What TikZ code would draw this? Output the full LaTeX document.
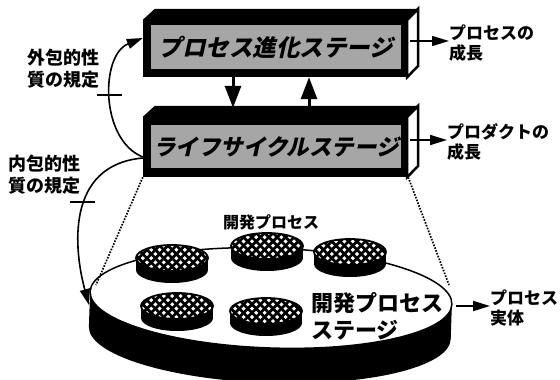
\documentclass[tikz,border=0pt]{standalone}
\usepackage{fontspec}
\newfontfamily\jp{Noto Sans CJK JP}
\newfontfamily\jpsl{Noto Sans CJK JP}[FakeSlant=0.22]
\usetikzlibrary{arrows.meta,patterns.meta}
\tikzdeclarepattern{
  name=xhatch, type=uncolored,
  bounding box={(-5.5pt,-5.5pt) and (5.5pt,5.5pt)},
  tile size={(8.4pt,8.4pt)},
  code={
    \draw[line width=2.7pt] (-5.2pt,-5.2pt) -- (5.2pt,5.2pt);
    \draw[line width=2.7pt] (-5.2pt,5.2pt) -- (5.2pt,-5.2pt);
  }
}
\tikzset{
  boxfront/.style={fill=black, draw=none, minimum width=265pt, inner sep=0pt},
  boxinner/.style={fill=black!35, draw=none, minimum width=250pt, inner sep=0pt},
  sideface/.style={draw=black, fill=white, line width=2.5pt, line join=miter},
  bigarr/.style={line width=3pt, -{Triangle[length=22pt,width=16pt]}},
  midarr/.style={line width=1.6pt, -{Triangle[length=17pt,width=10pt]}},
  curvearr/.style={line width=1.6pt, -{Triangle[length=16pt,width=10pt]}},
  dotline/.style={line width=1.7pt, dash pattern=on 1.6pt off 1.4pt},
  lbl/.style={font=\jp\bfseries\fontsize{17}{20}\selectfont, align=left, inner sep=0pt, anchor=west},
  lbll/.style={font=\jp\bfseries\fontsize{18}{22}\selectfont, align=left, inner sep=0pt, anchor=west},
  pics/minidisc/.style={code={
    \fill[black] (0,12) ellipse [x radius=36, y radius=13];
    \fill[black] (-36,0) rectangle (36,12);
    \fill[white] (0,0) ellipse [x radius=36, y radius=13];
    \draw[line width=1.8pt, pattern=xhatch] (0,0) ellipse [x radius=36, y radius=13];
  }}
}
\begin{document}
\begin{tikzpicture}[x=1pt,y=-1pt]
\useasboundingbox (0,0) rectangle (560,380);

% ---- big disc ----
\begin{scope}[rotate around={-2:(271,298)}]
  \fill[black] (271,333) ellipse [x radius=181, y radius=50];
  \fill[black] (90,298) rectangle (452,333);
  \draw[line width=1.5pt, fill=white] (271,298) ellipse [x radius=181, y radius=50];
\end{scope}
\coordinate (dtl) at (96,285);
\coordinate (dtr) at (449,285);
\coordinate (dl) at (89,305);
\coordinate (dr) at (456,306);

% ---- small discs ----
\pic at (172,258) {minidisc};
\pic at (267,246) {minidisc};
\pic at (350,252) {minidisc};
\pic at (177,306) {minidisc};
\pic at (266,311) {minidisc};
\node[font=\jp\bfseries\fontsize{16}{16}\selectfont, inner sep=0pt] (sl) at (271,222) {開発プロセス};
\node[font=\jp\bfseries\fontsize{22}{27}\selectfont, align=left, inner sep=0pt, anchor=west] (bt) at (311,316) {開発プロセス\\ステージ};

% ---- top box ----
\node[boxfront, minimum height=57pt] (pe) at (275.5,48.5) {};
\draw[sideface] ([xshift=-1pt]pe.north east) -- ++(11,-11) -- ++(0,57) -- ([xshift=-1pt]pe.south east) -- cycle;
\fill[black] (pe.north west) -- ++(12,-11) -- ([xshift=11pt,yshift=11pt]pe.north east) -- (pe.north east) -- cycle;
\node[boxinner, minimum height=44pt, font=\jpsl\bfseries\fontsize{23.5}{23.5}\selectfont] (pet) at (276,47) {プロセス進化ステージ};

% ---- lower box ----
\node[boxfront, minimum height=60pt] (lc) at (275.5,147) {};
\draw[sideface] ([xshift=-1pt]lc.north east) -- ++(11,-11) -- ++(0,60) -- ([xshift=-1pt]lc.south east) -- cycle;
\fill[black] (lc.north west) -- ++(12,-11) -- ([xshift=11pt,yshift=11pt]lc.north east) -- (lc.north east) -- cycle;
\node[boxinner, minimum height=43pt, font=\jpsl\bfseries\fontsize{22.5}{22.5}\selectfont] (lct) at (276,146.5) {ライフサイクルステージ};

% ---- arrows between boxes ----
\draw[bigarr] ([xshift=-42.5pt]pe.south) -- ([xshift=-42.5pt,yshift=9pt]lc.north);
\draw[bigarr] ([xshift=33.5pt,yshift=9pt]lc.north) -- ([xshift=33.5pt]pe.south);

% ---- right labels ----
\node[lbl] (pg) at (449,43) {プロセスの\\成長};
\coordinate (pa1) at (410,41);
\draw[midarr] (pa1) -- (pa1 -| pg.west);
\node[lbl] (pdg) at (447,142) {プロダクトの\\成長};
\coordinate (pa2) at (410,140);
\draw[midarr] (pa2) -- (pa2 -| pdg.west);
\node[lbl] (pj) at (490,308) {プロセス\\実体};
\draw[midarr] (dr) -- (dr -| pj.west);

% ---- left labels and curves ----
\node[lbll] (ext) at (27,69) {外包的性\\質の規定};
\node[lbll] (int) at (8,175) {内包的性\\質の規定};
\draw[curvearr] ([yshift=-10pt]lc.west) .. controls (100,140) and (100,55) .. ([yshift=10.5pt]pe.west);
\coordinate (t1a) at (97,95);
\coordinate (t1b) at (122,95);
\draw[line width=1.3pt] (t1a) -- (t1b);
\draw[curvearr] ([yshift=-11pt]lc.west) .. controls (65,165) and (74,250) .. (dl);
\coordinate (t2a) at (70,202);
\coordinate (t2b) at (95,202);
\draw[line width=1.3pt] (t2a) -- (t2b);

% ---- dotted projection lines ----
\draw[dotline] (lc.south west) -- (dtl);
\draw[dotline] (lc.south east) -- (dtr);
\end{tikzpicture}
\end{document}
